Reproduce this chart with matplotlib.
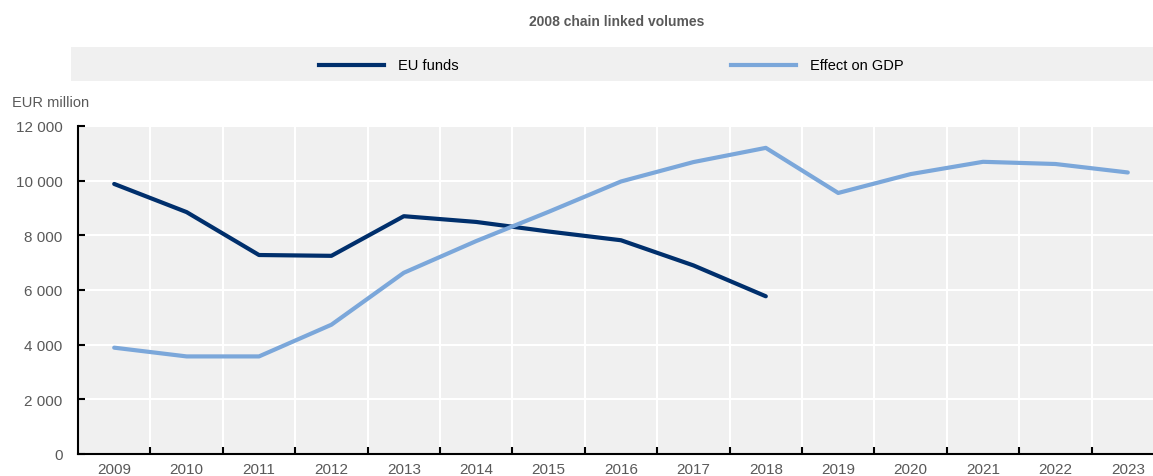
import matplotlib
matplotlib.use("Agg")
import matplotlib.pyplot as plt
from matplotlib.lines import Line2D
from matplotlib.patches import Rectangle

years = [str(y) for y in range(2009, 2024)]
eu_funds = [9880, 8850, 7280, 7250, 8700, 8490, 8140, 7820, 6900, 5770]
gdp_effect = [3890, 3570, 3570, 4730, 6630, 7790, 8860, 9970, 10680, 11200,
              9550, 10240, 10690, 10610, 10300]
yticks = [0, 2000, 4000, 6000, 8000, 10000, 12000]

navy = "#002F6C"
light = "#7BA7DA"
grey_txt = "#595959"
bg = "#F0F0F0"

plt.rcParams['font.family'] = ['Liberation Sans', 'DejaVu Sans']

W, H = 1153, 477
fig = plt.figure(figsize=(W / 100, H / 100), dpi=100)

# axes in pixel coords
left, right, top, bottom = 78, 1153, 127, 455
ax = fig.add_axes([left / W, 1 - bottom / H, (right - left) / W, (bottom - top) / H])
ax.set_facecolor(bg)

x = list(range(len(years)))
ax.plot(x[:len(eu_funds)], eu_funds, color=navy, lw=3, solid_capstyle='round', zorder=3)
ax.plot(x, gdp_effect, color=light, lw=3, solid_capstyle='round', zorder=3)

# grid at category boundaries
bounds = [i + 0.5 for i in range(len(years) - 1)]
for b in bounds:
    ax.axvline(b, color="white", lw=1.5, zorder=1)
for yv in yticks[1:]:
    ax.axhline(yv, color="white", lw=1.5, zorder=1)

ax.set_xticks(x)
ax.set_xticklabels(years)
ax.set_xticks(bounds, minor=True)
ax.tick_params(axis='x', which='major', length=0, pad=6, labelsize=11, labelcolor=grey_txt)
ax.tick_params(axis='x', which='minor', direction='in', length=5, width=1.5, color='black')

ax.set_yticks(yticks)
ax.set_yticklabels([f"{v:,}".replace(",", " ") for v in yticks])
ax.tick_params(axis='y', direction='in', length=5, width=1.5, color='black',
               pad=11, labelsize=11, labelcolor=grey_txt)

step = 72.4
ax.set_xlim(-0.5, (right - left) / step - 0.5)
ax.set_ylim(0, 12000)

for s in ['top', 'right']:
    ax.spines[s].set_visible(False)
for s in ['left', 'bottom']:
    ax.spines[s].set_linewidth(1.5)
    ax.spines[s].set_color('black')

# title and unit
fig.text(617 / W, 1 - 22 / H, "2008 chain linked volumes", ha='center', va='center',
         fontsize=10, fontweight='bold', color=grey_txt)
fig.text(12 / W, 1 - 103 / H, "EUR million", ha='left', va='center',
         fontsize=10.5, color=grey_txt)

# legend band
fig.patches.append(Rectangle((71 / W, 1 - 82 / H), (W - 71) / W, 34 / H,
                             transform=fig.transFigure, facecolor=bg, edgecolor='none'))
ly = 1 - 66 / H
for x0, x1, tx, col, lab in [(319, 384, 398, navy, "EU funds"),
                             (731, 796, 810, light, "Effect on GDP")]:
    fig.lines.append(Line2D([x0 / W, x1 / W], [ly, ly], transform=fig.transFigure,
                            color=col, lw=3))
    fig.text(tx / W, ly, lab, ha='left', va='center', fontsize=10.5, color='black')

fig.savefig("out.png", dpi=100)
